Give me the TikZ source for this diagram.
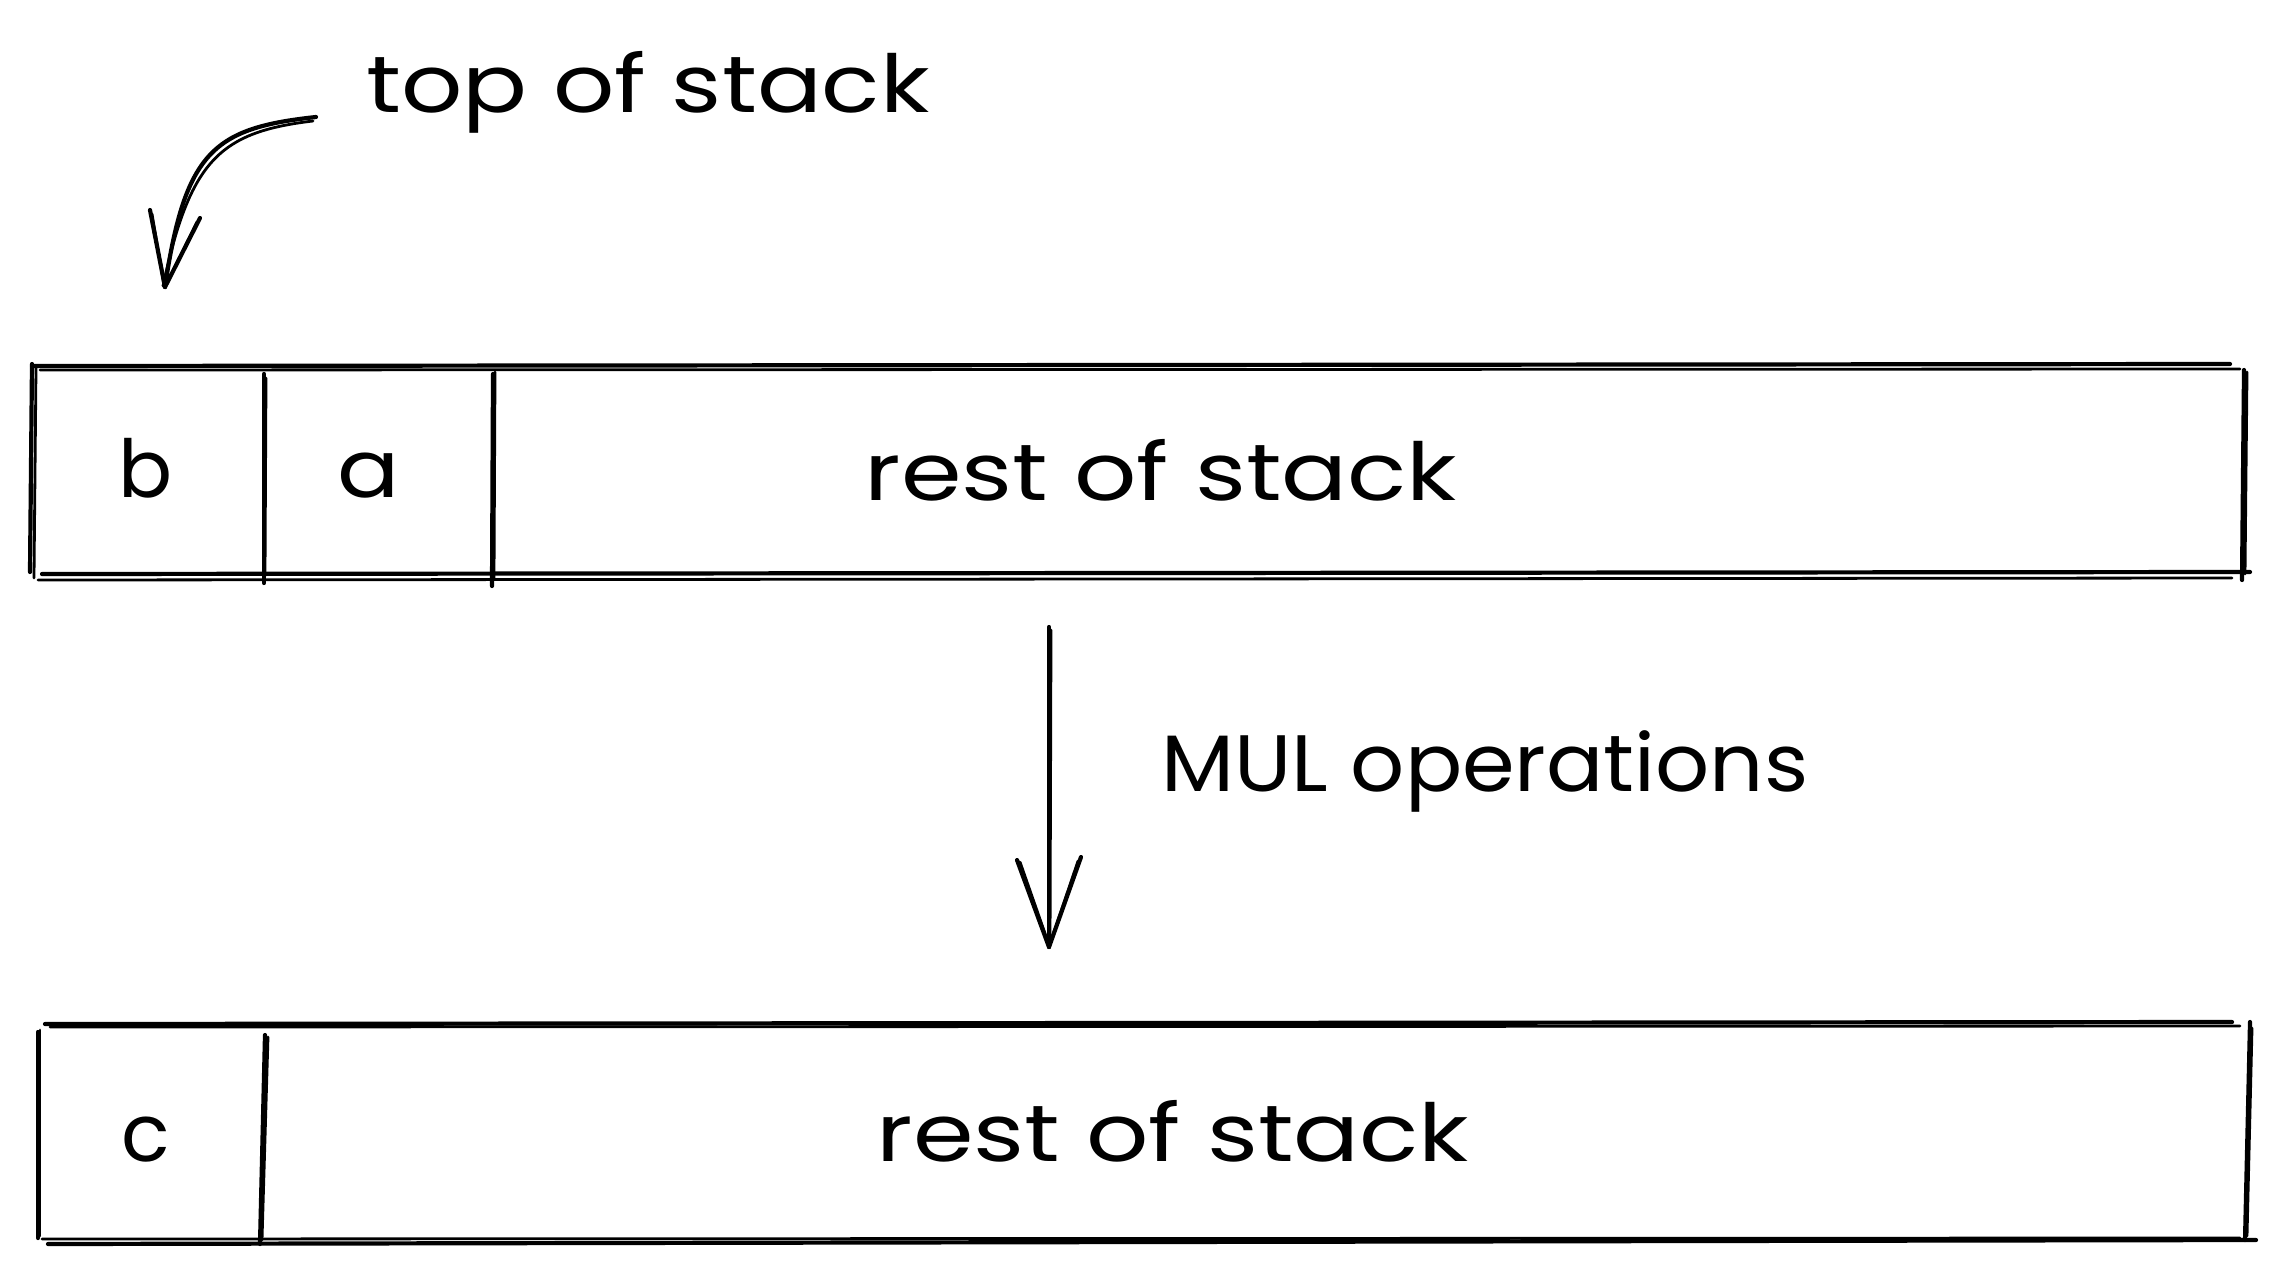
\documentclass[tikz,border=0pt]{standalone}
\usepackage{graphicx}
\usepackage{fontspec}
\setmainfont{Poppins}
\usetikzlibrary{calc}
\newcommand\wide[2]{\scalebox{#1}[1]{#2}}
\begin{document}
\begin{tikzpicture}[x=1pt,y=-1pt,
  ink/.style={line width=4.2pt, line cap=round, line join=round, black},
  ink2/.style={line width=2.8pt, line cap=round, line join=round, black},
  lbl/.style={inner sep=0pt, anchor=base, font=\fontsize{80}{92}\selectfont},
  cell/.style={inner sep=0pt, minimum height=210pt}]
\useasboundingbox (0,0) rectangle (2285,1274);

% ---- upper stack: b | a | rest of stack
\node[cell, minimum width=2212pt] (topbar) at (1138,471) {};
\node[cell, minimum width=232pt] (cb) at (148,471) {};
\node[cell, minimum width=229pt] (ca) at (378,471) {};
\node[lbl] (lb) at (146,497) {b};
\node[lbl] (la) at (369,497) {\wide{1.15}{a}};
\node[lbl] (restA) at (1161,500) {\wide{1.22}{rest of stack}};

% outline, drawn as doubled strokes
\draw[ink]  (32,366) -- (2230,364);
\draw[ink2] (40,370) -- (2240,369);
\draw[ink]  (42,574) -- (2250,572);
\draw[ink2] (38,580) -- (2232,578);
\draw[ink]  (32,364) -- (30,572);
\draw[ink2] (36,368) -- (34,578);
\draw[ink]  (2244,370) -- (2242,580);
\draw[ink2] (2247,372) -- (2245,574);
% cell dividers
\draw[ink]  (264,374) -- (264,583);
\draw[ink2] (266,378) -- (265,576);
\draw[ink]  (493,374) -- (492,586);
\draw[ink2] (495,372) -- (494,578);

% ---- lower stack: c | rest of stack
\node[cell, minimum width=2212pt, minimum height=218pt] (botbar) at (1145,1133) {};
\node[cell, minimum width=223pt, minimum height=218pt] (cc) at (150,1133) {};
\node[lbl] (lc) at (146,1161) {c};
\node[lbl] (restB) at (1173,1161) {\wide{1.22}{rest of stack}};

\draw[ink]  (45,1024) -- (2232,1022);
\draw[ink2] (50,1027) -- (2240,1026);
\draw[ink]  (48,1244) -- (2256,1240);
\draw[ink2] (42,1239) -- (2240,1238);
\draw[ink]  (38,1032) -- (38,1238);
\draw[ink2] (40,1030) -- (40,1236);
\draw[ink]  (2250,1022) -- (2245,1240);
\draw[ink2] (2252,1028) -- (2247,1236);
\draw[ink]  (265,1035) -- (260,1244);
\draw[ink2] (268,1037) -- (262,1240);

% ---- pointer to the top of the stack
\node[lbl] (tos) at (648,112) {\wide{1.2}{top of stack}};
\coordinate (p0) at (316,117);
\coordinate (p1) at (165,287);
\draw[ink]  (p0) .. controls (215,128) and (185,150) .. (p1);
\draw[ink2] (313,121) .. controls (220,132) and (190,160) .. (163,286);
\draw[ink]  (150,210) -- (p1);
\draw[ink2] (152,214) -- (164,285);
\draw[ink]  (200,218) -- (p1);
\draw[ink2] (197,222) -- (166,285);

% ---- transition arrow
\coordinate (m0) at (1049,627);
\coordinate (m1) at (1049,947);
\draw[ink]  (m0) -- (m1);
\draw[ink2] (1051,630) -- (1050,945);
\draw[ink]  (1017,860) -- (m1);
\draw[ink2] (1020,862) -- (1049,945);
\draw[ink]  (1081,857) -- (m1);
\draw[ink2] (1078,861) -- (1050,944);
\node[lbl, anchor=base west] (mul) at (1161,791) {\wide{1.06}{MUL operations}};
\end{tikzpicture}
\end{document}
